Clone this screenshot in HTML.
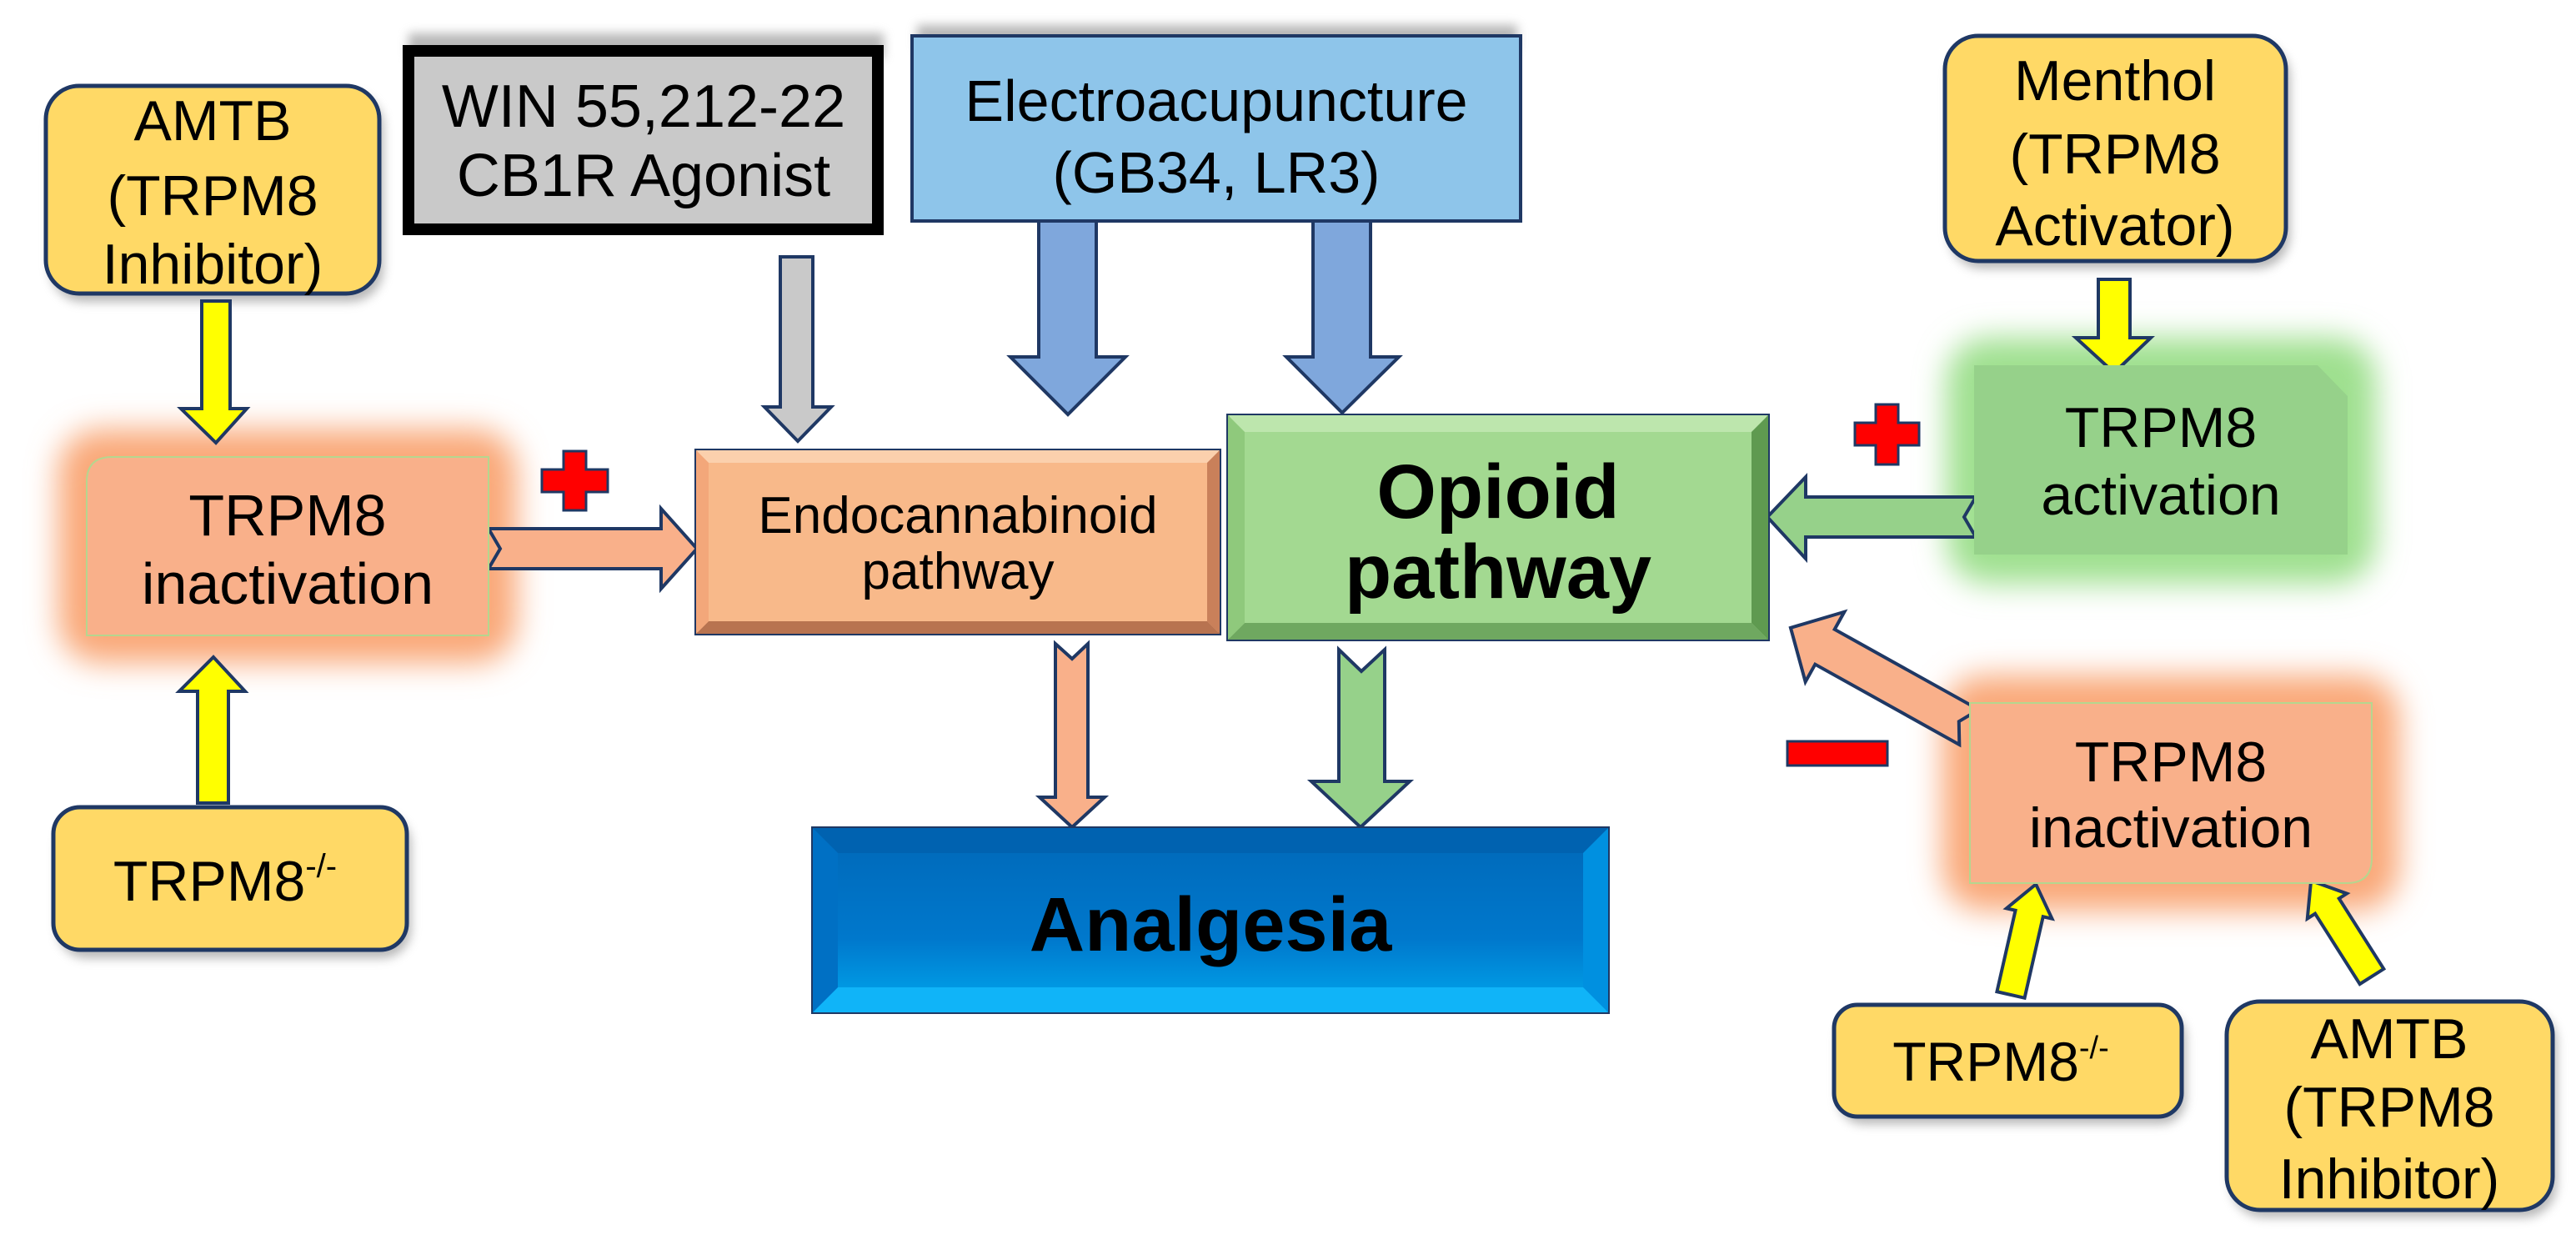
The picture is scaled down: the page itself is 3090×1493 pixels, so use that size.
<!DOCTYPE html>
<html><head><meta charset="utf-8"><style>
html,body{margin:0;padding:0;background:#fff}
svg{display:block}
text{font-family:"Liberation Sans",Arial,sans-serif;fill:#000;text-anchor:middle}
</style></head><body>
<svg width="3090" height="1493" viewBox="0 0 3090 1493" xmlns="http://www.w3.org/2000/svg">
<defs>
<filter id="blur" x="-30%" y="-30%" width="160%" height="160%"><feGaussianBlur stdDeviation="18"/></filter>
<filter id="sh" x="-10%" y="-10%" width="120%" height="130%"><feGaussianBlur stdDeviation="6"/></filter>
<linearGradient id="ana" x1="0" y1="0" x2="0" y2="1"><stop offset="0" stop-color="#0068b8"/><stop offset="0.6" stop-color="#0078cc"/><stop offset="1" stop-color="#00a8ee"/></linearGradient>
</defs>

<rect x="70" y="515" width="550" height="280" rx="50" fill="#f9a878" filter="url(#blur)"/>
<rect x="2335" y="405" width="515" height="295" rx="50" fill="#9fe08f" filter="url(#blur)"/>
<rect x="2330" y="810" width="548" height="282" rx="50" fill="#f9a878" filter="url(#blur)"/>

<g fill="#888" opacity="0.6" filter="url(#sh)">
<rect x="60" y="112" width="400" height="250" rx="40"/>
<rect x="69" y="977" width="424" height="172" rx="35"/>
<rect x="2338" y="52" width="409" height="270" rx="40"/>
<rect x="2205" y="1214" width="417" height="134" rx="30"/>
<rect x="2676" y="1210" width="391" height="250" rx="40"/>
<rect x="490" y="40" width="570" height="30"/>
<rect x="1100" y="30" width="720" height="30"/>
</g>

<rect x="55" y="103" width="400" height="249" rx="40" fill="#ffd966" stroke="#1f3864" stroke-width="5"/>
<text font-size="68" x="255" y="168">AMTB</text>
<text font-size="68" x="255" y="258">(TRPM8</text>
<text font-size="68" x="255" y="340">Inhibitor)</text>

<rect x="490" y="61" width="563" height="214" fill="#c9c9c9" stroke="#000" stroke-width="14"/>
<text font-size="72" x="772" y="152">WIN 55,212-22</text>
<text font-size="72" x="772" y="235">CB1R Agonist</text>

<rect x="1094" y="43" width="730" height="222" fill="#8ec5ea" stroke="#1f3864" stroke-width="4"/>
<text font-size="70" x="1459" y="145">Electroacupuncture</text>
<text font-size="70" x="1459" y="231">(GB34, LR3)</text>

<rect x="2333" y="43" width="409" height="270" rx="40" fill="#ffd966" stroke="#1f3864" stroke-width="5"/>
<text font-size="68" x="2537" y="120">Menthol</text>
<text font-size="68" x="2537" y="208">(TRPM8</text>
<text font-size="68" x="2537" y="294">Activator)</text>

<g stroke="#1f3864" stroke-width="4" stroke-linejoin="miter">
<polygon fill="#ffff00" points="242,361 276,361 276,490 296,490 259,531 217,490 242,490"/>
<polygon fill="#c9c9c9" points="936,308 975,308 975,488 997,488 957,529 917,488 936,488"/>
<polygon fill="#7fa7dc" points="1246,265 1315,265 1315,428 1350,428 1281,497 1212,428 1246,428"/>
<polygon fill="#7fa7dc" points="1575,265 1644,265 1644,428 1678,428 1610,495 1543,428 1575,428"/>
<polygon fill="#ffff00" points="2517,335 2555,335 2555,405 2580,405 2536,447 2490,405 2517,405"/>
<polygon fill="#f9b08a" points="586,634 793,634 793,610 836,658 793,706 793,682 586,682 600,658"/>
<polygon fill="#96d18a" points="2370,596 2166,596 2166,572 2120,620 2166,670 2166,644 2370,644 2356,620"/>
<polygon fill="#ffff00" points="237,963 274,963 274,829 294,829 256,788 215,829 237,829"/>
<polygon fill="#f9b08a" points="1266,772 1286,790 1305,772 1305,956 1325,956 1286,992 1247,956 1266,956"/>
<polygon fill="#96d18a" points="1606,779 1633,805 1661,779 1661,937 1691,937 1632,992 1573,937 1606,937"/>
<g transform="translate(2362,872) rotate(209.1)"><polygon fill="#f9b08a" points="0,-24 198,-24 198,-48 245,0 198,48 198,24 0,24 14,0"/></g>
<g transform="translate(2412,1193) rotate(-77.2)"><polygon fill="#ffff00" points="0,-17 100,-17 100,-28 136,0 100,28 100,17 0,17"/></g>
<g transform="translate(2845,1171) rotate(237.6)"><polygon fill="#ffff00" points="0,-17 100,-17 100,-28 136,0 100,28 100,17 0,17"/></g>
</g>

<path d="M134,548 H586 V762 H104 V578 Q104,548 134,548 Z" fill="#f9b08a" stroke="#b5d68f" stroke-width="2"/>
<text font-size="70" x="345" y="642">TRPM8</text>
<text font-size="70" x="345" y="724">inactivation</text>

<g fill="#ff0000" stroke="#1f3864" stroke-width="3">
<path d="M676,541 H703 V563 H729 V590 H703 V612 H676 V590 H650 V563 H676 Z"/>
<path d="M2250,485 H2277 V507 H2302 V534 H2277 V557 H2250 V534 H2225 V507 H2250 Z"/>
<rect x="2144" y="889" width="120" height="29"/>
</g>

<rect x="835" y="540" width="628" height="220" fill="#f8b98a" stroke="#1f3864" stroke-width="4"/>
<polygon points="835,540 1463,540 1448,555 850,555" fill="#fbd0ad"/>
<polygon points="1463,540 1463,760 1448,745 1448,555" fill="#c9805a"/>
<polygon points="835,760 1463,760 1448,745 850,745" fill="#b87350"/>
<polygon points="835,540 850,555 850,745 835,760" fill="#f3a77a"/>
<text font-size="62" x="1149" y="639">Endocannabinoid</text>
<text font-size="62" x="1149" y="706">pathway</text>

<rect x="1473" y="498" width="648" height="269" fill="#a3d991" stroke="#1f3864" stroke-width="4"/>
<polygon points="1473,498 2121,498 2101,518 1493,518" fill="#bde6ad"/>
<polygon points="2121,498 2121,767 2101,747 2101,518" fill="#5f9a50"/>
<polygon points="1473,767 2121,767 2101,747 1493,747" fill="#6fa860"/>
<polygon points="1473,498 1493,518 1493,747 1473,767" fill="#8fc97c"/>
<text font-size="92" font-weight="bold" x="1797" y="621">Opioid</text>
<text font-size="92" font-weight="bold" x="1797" y="717">pathway</text>

<path d="M2368,438 H2780 L2816,475 V665 H2368 Z" fill="#96d18a"/>
<text font-size="68" x="2592" y="536">TRPM8</text>
<text font-size="68" x="2592" y="617">activation</text>

<rect x="975" y="993" width="954" height="221" fill="url(#ana)" stroke="#1f3864" stroke-width="4"/>
<polygon points="975,993 1929,993 1899,1023 1005,1023" fill="#0062b0"/>
<polygon points="1929,993 1929,1214 1899,1184 1899,1023" fill="#0090e0"/>
<polygon points="975,1214 1929,1214 1899,1184 1005,1184" fill="#10b4f8"/>
<polygon points="975,993 1005,1023 1005,1184 975,1214" fill="#0070c4"/>
<text font-size="92" font-weight="bold" x="1452" y="1140">Analgesia</text>

<rect x="64" y="968" width="424" height="171" rx="32" fill="#ffd966" stroke="#1f3864" stroke-width="5"/>
<text font-size="68" x="270" y="1080">TRPM8<tspan font-size="40" dy="-28">-/-</tspan></text>

<path d="M2363,843 H2845 V1029 Q2845,1059 2815,1059 H2363 Z" fill="#f9b08a" stroke="#b5d68f" stroke-width="2"/>
<text font-size="68" x="2604" y="937">TRPM8</text>
<text font-size="68" x="2604" y="1016">inactivation</text>

<rect x="2200" y="1205" width="417" height="134" rx="28" fill="#ffd966" stroke="#1f3864" stroke-width="5"/>
<text font-size="66" x="2400" y="1296">TRPM8<tspan font-size="38" dy="-27">-/-</tspan></text>

<rect x="2671" y="1201" width="391" height="250" rx="40" fill="#ffd966" stroke="#1f3864" stroke-width="5"/>
<text font-size="68" x="2866" y="1269">AMTB</text>
<text font-size="68" x="2866" y="1351">(TRPM8</text>
<text font-size="68" x="2866" y="1437">Inhibitor)</text>
</svg>
</body></html>
